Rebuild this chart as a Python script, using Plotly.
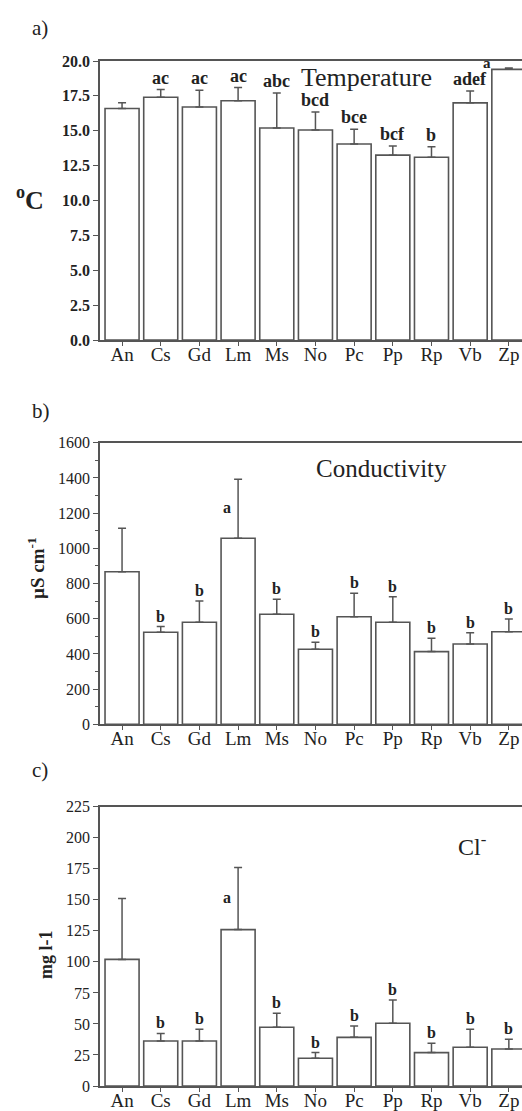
import plotly.graph_objects as go

categories = ["An", "Cs", "Gd", "Lm", "Ms", "No", "Pc", "Pp", "Rp", "Vb", "Zp"]

temp_mean = [16.6, 17.4, 16.7, 17.15, 15.2, 15.05, 14.05, 13.25, 13.1, 17.0, 19.4]
temp_err = [0.4, 0.55, 1.2, 0.95, 2.5, 1.3, 1.05, 0.65, 0.75, 0.85, 0.1]
temp_letters = ["", "ac", "ac", "ac", "abc", "bcd", "bce", "bcf", "b", "adef", "a"]

cond_mean = [867, 523, 580, 1057, 625, 426, 611, 580, 413, 456, 526]
cond_err = [247, 32, 120, 335, 85, 40, 133, 145, 76, 64, 72]
cond_letters = ["", "b", "b", "a", "b", "b", "b", "b", "b", "b", "b"]

cl_mean = [102, 36.3, 36.3, 126, 47.3, 22.3, 39.2, 50.5, 26.9, 31.2, 29.8]
cl_err = [49, 6, 9.5, 50, 11.3, 4.6, 9.1, 18.8, 7.5, 14.5, 7.8]
cl_letters = ["", "b", "b", "a", "b", "b", "b", "b", "b", "b", "b"]

W, H = 522, 1111
FONT = "Liberation Serif"
INK = "#222222"
LINE = "#555555"

fig = go.Figure()

panels = [
    dict(mean=temp_mean, err=temp_err, letters=temp_letters, xa="x", ya="y",
         top=61, bottom=340, rng=[0, 20], dtick=2.5, fmt=".1f", minor=None,
         lsize=18, tbold=True),
    dict(mean=cond_mean, err=cond_err, letters=cond_letters, xa="x2", ya="y2",
         top=442.7, bottom=724.3, rng=[0, 1600], dtick=200, fmt="d", minor=100,
         lsize=16, tbold=False),
    dict(mean=cl_mean, err=cl_err, letters=cl_letters, xa="x3", ya="y3",
         top=806.7, bottom=1086, rng=[0, 225], dtick=25, fmt="d", minor=None,
         lsize=16, tbold=False),
]

annotations = []
for i, p in enumerate(panels):
    fig.add_trace(go.Bar(
        x=categories, y=p["mean"], xaxis=p["xa"], yaxis=p["ya"],
        marker=dict(color="white", line=dict(color=LINE, width=1.6)),
        error_y=dict(type="data", symmetric=False, array=p["err"],
                     arrayminus=[0] * len(p["err"]), color=LINE,
                     thickness=1.5, width=4),
        showlegend=False, hoverinfo="skip",
    ))
    suffix = "" if i == 0 else str(i + 1)
    dom_y = [1 - p["bottom"] / H, 1 - p["top"] / H]
    fig.layout["xaxis" + suffix] = dict(
        domain=[100 / W, 1], range=[-0.57, 10.34], anchor="y" + suffix,
        showline=True, linecolor=LINE, linewidth=1.5, mirror=True,
        ticks="outside", ticklen=4, tickcolor=LINE, tickwidth=1.2,
        ticklabelstandoff=-8,
        tickfont=dict(family=FONT, size=19, color=INK),
        showgrid=False, zeroline=False, automargin=False, fixedrange=True,
    )
    yd = dict(
        domain=dom_y, range=p["rng"], anchor="x" + suffix,
        showline=True, linecolor=LINE, linewidth=1.5,
        ticks="outside", ticklen=5, tickcolor=LINE, tickwidth=1.2,
        dtick=p["dtick"], tick0=0, tickformat=p["fmt"],
        tickfont=dict(family=FONT, size=16, color=INK,
                      weight="bold" if p["tbold"] else "normal"),
        showgrid=False, zeroline=False, automargin=False, fixedrange=True,
    )
    if p["minor"]:
        yd["minor"] = dict(dtick=p["minor"], ticks="outside", ticklen=3,
                           tickcolor=LINE, showgrid=False)
    fig.layout["yaxis" + suffix] = yd

    for j, (c, m, e, lab) in enumerate(zip(categories, p["mean"], p["err"], p["letters"])):
        if not lab:
            continue
        ann = dict(x=c, y=m + e, xref=p["xa"], yref=p["ya"], text=lab,
                   showarrow=False, yanchor="bottom", xanchor="center", yshift=0,
                   font=dict(family=FONT, size=p["lsize"], color=INK, weight="bold"))
        if i > 0 and c == "Lm":
            ann.update(y=m + e * 0.52, yanchor="middle", xshift=-11)
        if i == 0 and c == "Zp":
            ann.update(xshift=-22, yshift=-5)
            ann["font"] = dict(family=FONT, size=15, color=INK, weight="bold")
        annotations.append(ann)

annotations += [
    dict(x=366 / W, y=1 - 77 / H, xref="paper", yref="paper", text="Temperature",
         showarrow=False, xanchor="center", yanchor="middle",
         font=dict(family=FONT, size=26, color=INK)),
    dict(x=381 / W, y=1 - 468 / H, xref="paper", yref="paper", text="Conductivity",
         showarrow=False, xanchor="center", yanchor="middle",
         font=dict(family=FONT, size=25, color=INK)),
    dict(x=472 / W, y=1 - 845 / H, xref="paper", yref="paper", text="Cl<sup>-</sup>",
         showarrow=False, xanchor="center", yanchor="middle",
         font=dict(family=FONT, size=24, color=INK)),
    dict(x=30 / W, y=1 - 28 / H, xref="paper", yref="paper", text="a)",
         showarrow=False, xanchor="left", yanchor="middle",
         font=dict(family=FONT, size=21, color=INK)),
    dict(x=30 / W, y=1 - 411 / H, xref="paper", yref="paper", text="b)",
         showarrow=False, xanchor="left", yanchor="middle",
         font=dict(family=FONT, size=21, color=INK)),
    dict(x=30 / W, y=1 - 770 / H, xref="paper", yref="paper", text="c)",
         showarrow=False, xanchor="left", yanchor="middle",
         font=dict(family=FONT, size=21, color=INK)),
    dict(x=30 / W, y=1 - 199 / H, xref="paper", yref="paper", text="<sup>o</sup>C",
         showarrow=False, xanchor="center", yanchor="middle",
         font=dict(family=FONT, size=26, color=INK, weight="bold")),
    dict(x=36 / W, y=1 - 568 / H, xref="paper", yref="paper", text="µS cm<sup>-1</sup>",
         showarrow=False, xanchor="center", yanchor="middle", textangle=-90,
         font=dict(family=FONT, size=19, color=INK, weight="bold")),
    dict(x=46 / W, y=1 - 955 / H, xref="paper", yref="paper", text="mg l-1",
         showarrow=False, xanchor="center", yanchor="middle", textangle=-90,
         font=dict(family=FONT, size=18, color=INK, weight="bold")),
]

fig.update_layout(
    width=W, height=H,
    margin=dict(l=0, r=0, t=0, b=0, autoexpand=False),
    paper_bgcolor="white", plot_bgcolor="white",
    bargap=0.12,
    annotations=annotations,
)

fig.write_html(
    "out.html",
    config={"displayModeBar": False},
    post_script="document.body.style.margin='0';document.body.style.overflow='hidden';",
)
